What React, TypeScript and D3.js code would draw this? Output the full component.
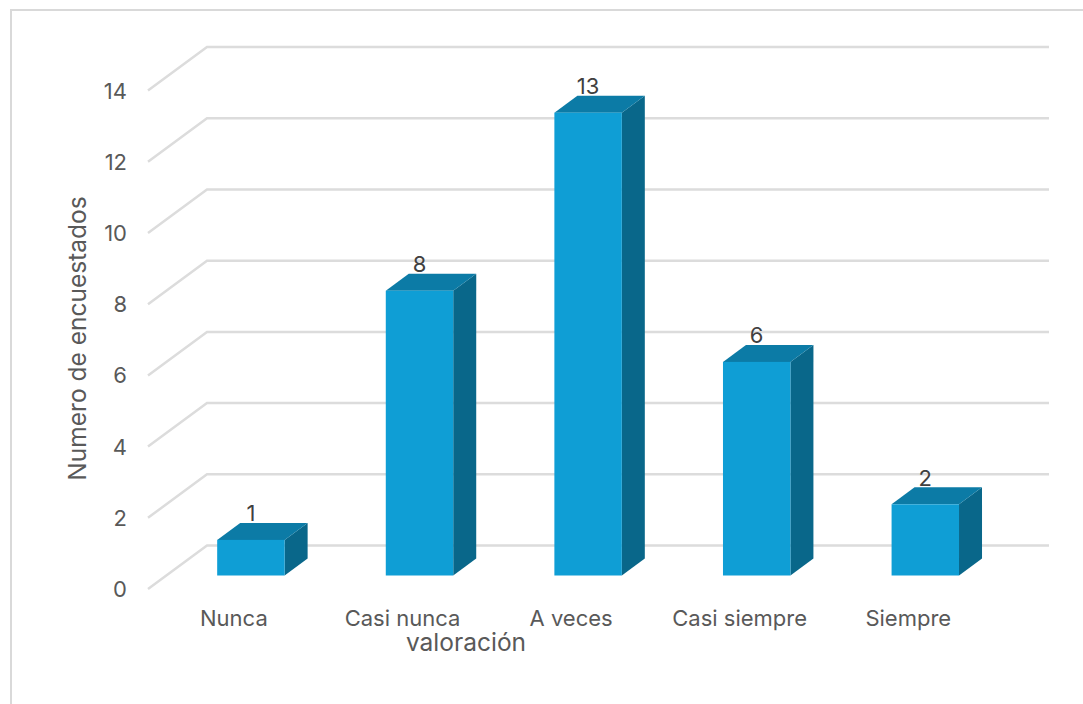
import * as d3 from 'd3';

const categories = ['Nunca', 'Casi nunca', 'A veces', 'Casi siempre', 'Siempre'];
const values = [1, 8, 13, 6, 2];
const yTicks = [0, 2, 4, 6, 8, 10, 12, 14];

const width = 1083;
const height = 704;
const font = 'Inter, "Noto Sans", sans-serif';
const textColor = '#595959';

// floor of the front plane and the shift to the back wall
const wallLeft = 148;
const wallBack = 207;
const wallRight = 1049;
const wallRise = 43.5;
const barLift = 13.5;
const depthX = 23;
const depthY = 17;

const yScale = d3.scaleLinear().domain([0, 14]).range([589, 90.6]);
const xScale = d3
  .scaleBand<string>()
  .domain(categories)
  .range([166.6, 1009.6])
  .paddingInner(0.6)
  .paddingOuter(0.3);

const App = () => {
  const gridPath = d3.line<[number, number]>();
  const bw = xScale.bandwidth();

  return (
    <svg
      width={width}
      height={height}
      style={{ position: 'absolute', left: 0, top: 0, background: '#fff' }}
    >
      {/* marco */}
      <rect x={11} y={10} width={1100} height={720} fill="#fff" stroke="#d9d9d9" strokeWidth={2} />

      {/* rejilla */}
      {yTicks.map((t) => {
        const y = yScale(t);
        return (
          <path
            key={t}
            d={
              gridPath([
                [wallLeft, y],
                [wallBack, y - wallRise],
                [wallRight, y - wallRise],
              ]) as string
            }
            fill="none"
            stroke="#dcdcdc"
            strokeWidth={2.5}
          />
        );
      })}

      {/* eje y */}
      {yTicks.map((t) => (
        <text
          key={t}
          x={127}
          y={yScale(t) + 8}
          textAnchor="end"
          fontFamily={font}
          fontSize={22}
          fill={textColor}
        >
          {t}
        </text>
      ))}

      {/* barras */}
      {categories.map((c, i) => {
        const x0 = xScale(c) as number;
        const x1 = x0 + bw;
        const bottom = yScale(0) - barLift;
        const top = yScale(values[i]) - barLift;
        return (
          <g key={c}>
            <path
              d={`M${x1},${top}L${x1 + depthX},${top - depthY}V${bottom - depthY}L${x1},${bottom}Z`}
              fill="#09678a"
            />
            <path
              d={`M${x0},${top}L${x0 + depthX},${top - depthY}H${x1 + depthX}L${x1},${top}Z`}
              fill="#0c7ba6"
            />
            <rect x={x0} y={top} width={bw} height={bottom - top} fill="#0f9ed5" />
            <text
              x={x0 + bw / 2}
              y={top - 18.5}
              textAnchor="middle"
              fontFamily={font}
              fontSize={22}
              fill="#404040"
            >
              {values[i]}
            </text>
            <text
              x={x0 + bw / 2 - 17}
              y={625.5}
              textAnchor="middle"
              fontFamily={font}
              fontSize={22}
              fill={textColor}
            >
              {c}
            </text>
          </g>
        );
      })}

      {/* titulos */}
      <text x={466} y={651} textAnchor="middle" fontFamily={font} fontSize={24.5} fill={textColor}>
        valoración
      </text>
      <text
        transform="translate(86,338.5) rotate(-90)"
        textAnchor="middle"
        fontFamily={font}
        fontSize={24.5}
        fill={textColor}
      >
        Numero de encuestados
      </text>
    </svg>
  );
};

export default App;
